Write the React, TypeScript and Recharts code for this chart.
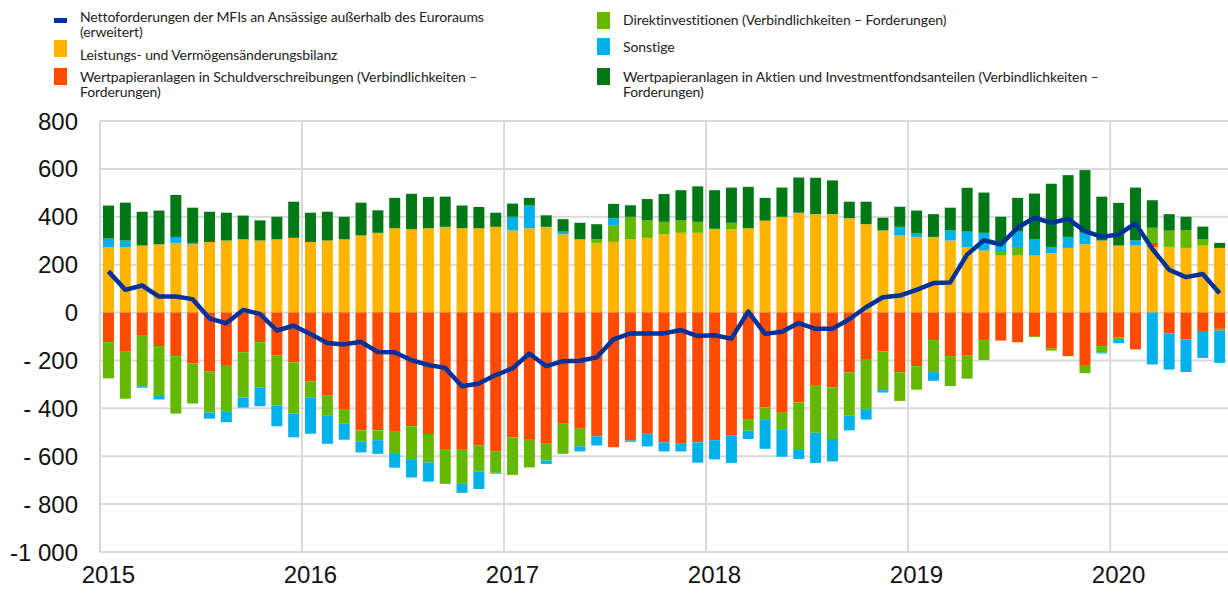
import React from 'react';
import { ComposedChart, Bar, Line, XAxis, YAxis, CartesianGrid, ReferenceLine } from 'recharts';

// monthly, Jan 2015 - Jul 2020
const years = ['2015', '2016', '2017', '2018', '2019', '2020'];
const monthsPerYear = [12, 12, 12, 12, 12, 7];

const leistung = [
  274, 274, 280, 285, 291, 285, 295, 301, 306, 301, 306, 312,
  295, 301, 306, 322, 333, 352, 348, 352, 358, 352, 352, 358,
  343, 352, 358, 327, 306, 291, 295, 306, 312, 327, 333, 333,
  350, 347, 352, 384, 400, 417, 411, 411, 394, 369, 343, 322,
  316, 316, 301, 274, 259, 238, 238, 238, 247, 270, 285, 301,
  280, 280, 274, 274, 270, 280, 270,
];
const schuld = [
  -124, -161, -94, -140, -182, -212, -245, -219, -166, -124, -178, -208,
  -287, -345, -403, -492, -492, -498, -475, -507, -570, -570, -555, -580,
  -521, -528, -548, -464, -485, -517, -563, -534, -506, -542, -548, -542,
  -533, -513, -445, -397, -418, -376, -303, -313, -250, -194, -162, -250,
  -224, -115, -182, -178, -115, -117, -124, -98, -151, -182, -219, -140,
  -103, -154, 17, -87, -112, -77, -68,
];
const direkt = [
  -151, -199, -214, -205, -240, -168, -173, -193, -189, -189, -210, -214,
  -67, -84, -61, -46, -41, -88, -137, -119, -143, -145, -109, -89,
  -157, -119, -70, -126, -74, 15, 70, 94, 73, 52, 52, 46,
  0, 28, -48, -48, -69, -194, -199, -215, -179, -208, -162, -119,
  -98, -134, -125, -98, -83, 15, 36, -4, -8, 0, -34, -27,
  -8, 0, 63, 68, 73, 27, -8,
];
const sonstige = [
  35, 27, -6, -18, 25, 6, -25, -46, -42, -78, -87, -99,
  -152, -119, -67, -46, -57, -62, -77, -80, -3, -38, -73, -4,
  57, 95, -14, 11, -21, -38, 29, -6, -53, -38, -32, -85,
  -80, -115, -35, -124, -115, -42, -126, -94, -63, -45, -10, 36,
  14, -36, 42, 64, 74, 38, 64, 69, 27, 46, 48, -4,
  -17, 21, -217, -151, -136, -113, -134,
];
const aktien = [
  138, 158, 141, 141, 175, 147, 126, 116, 99, 84, 94, 151,
  122, 120, 94, 137, 94, 127, 148, 131, 126, 95, 89, 59,
  55, 32, 48, 52, 69, 63, 60, 48, 89, 116, 126, 148,
  161, 147, 173, 95, 122, 147, 152, 141, 69, 94, 53, 84,
  96, 95, 95, 183, 168, 109, 141, 190, 264, 258, 262, 183,
  178, 221, 115, 69, 57, 52, 21,
];
const netto = [
  172, 95, 113, 67, 67, 56, -24, -45, 11, -6, -75, -55,
  -90, -127, -133, -122, -165, -166, -199, -219, -231, -308, -296, -261,
  -233, -171, -224, -203, -201, -187, -112, -87, -87, -87, -73, -98,
  -95, -109, 4, -89, -80, -44, -68, -68, -28, 22, 64, 71,
  95, 123, 126, 242, 302, 284, 354, 396, 375, 391, 340, 316,
  326, 372, 266, 179, 148, 161, 81,
];

const yTicks = [800, 600, 400, 200, 0, -200, -400, -600, -800, -1000];

const months: string[] = [];
years.forEach((y, k) => {
  for (let m = 1; m <= monthsPerYear[k]; m++) months.push(y + '-' + String(m).padStart(2, '0'));
});
const yearStarts = years.slice(1).map((y) => y + '-01');

const data = months.map((month, i) => ({
  month,
  leistung: leistung[i],
  schuld: schuld[i],
  direkt: direkt[i],
  sonstige: sonstige[i],
  aktien: aktien[i],
  netto: netto[i],
}));

const C = {
  blue: '#003299',
  yellow: '#FFB400',
  red: '#FF4B00',
  green: '#65B800',
  lightblue: '#00B1EA',
  dkgreen: '#007816',
  grid: '#d9d9d9',
};

const fmtY = (v: number) => {
  if (v === 0) return '0';
  if (v <= -1000) return '-1 000';
  if (v < 0) return '- ' + Math.abs(v);
  return String(v);
};

const font = 'Lato, "Open Sans", sans-serif';
const axisFont = { fontSize: 24, fill: '#111', fontFamily: '"Liberation Sans", Arial, sans-serif' };

type Item = { x: number; mTop: number; mH: number; tTop: number; color: string; lines: string[] };

const legend: Item[] = [
  { x: 54, mTop: 18, mH: 5, tTop: 9, color: C.blue, lines: ['Nettoforderungen der MFIs an Ansässige außerhalb des Euroraums', '(erweitert)'] },
  { x: 54, mTop: 40, mH: 17, tTop: 47, color: C.yellow, lines: ['Leistungs- und Vermögensänderungsbilanz'] },
  { x: 54, mTop: 68, mH: 17, tTop: 69, color: C.red, lines: ['Wertpapieranlagen in Schuldverschreibungen (Verbindlichkeiten –', 'Forderungen)'] },
  { x: 597, mTop: 12, mH: 17, tTop: 12, color: C.green, lines: ['Direktinvestitionen (Verbindlichkeiten – Forderungen)'] },
  { x: 597, mTop: 38, mH: 17, tTop: 39, color: C.lightblue, lines: ['Sonstige'] },
  { x: 597, mTop: 68, mH: 17, tTop: 69, color: C.dkgreen, lines: ['Wertpapieranlagen in Aktien und Investmentfondsanteilen (Verbindlichkeiten –', 'Forderungen)'] },
];

export default function App() {
  return (
    <div style={{ position: 'absolute', left: 0, top: 0, width: 1228, height: 594, background: '#fff', fontFamily: font, overflow: 'hidden' }}>
      {legend.map((it) => (
        <React.Fragment key={it.lines[0]}>
          <div style={{ position: 'absolute', left: it.x, top: it.mTop, width: 13, height: it.mH, background: it.color }} />
          <div
            style={{
              position: 'absolute',
              left: it.x + 26,
              top: it.tTop,
              whiteSpace: 'nowrap',
              fontSize: 14,
              letterSpacing: -0.1,
              lineHeight: '15px',
              color: '#222',
            }}
          >
            {it.lines.map((l) => (
              <div key={l}>{l}</div>
            ))}
          </div>
        </React.Fragment>
      ))}

      <div style={{ position: 'absolute', left: 0, top: 0 }}>
        <ComposedChart
          width={1228}
          height={594}
          data={data}
          stackOffset="sign"
          margin={{ top: 121, right: 0, bottom: 0, left: 0 }}
        >
          <CartesianGrid vertical={false} stroke={C.grid} strokeWidth={2} />
          <XAxis
            dataKey="month"
            interval={11}
            tickFormatter={(v: string) => v.slice(0, 4)}
            tickLine={false}
            axisLine={false}
            height={42}
            tick={axisFont}
            tickMargin={8}
          />
          <YAxis
            domain={[-1000, 800]}
            ticks={yTicks}
            interval={0}
            tickFormatter={fmtY}
            width={100}
            tickLine={false}
            axisLine={{ stroke: C.grid, strokeWidth: 2 }}
            tick={axisFont}
            tickMargin={16}
          />
          {yearStarts.map((m) => (
            <ReferenceLine key={m} x={m} position="start" stroke={C.grid} strokeWidth={2} />
          ))}
          <Bar dataKey="leistung" stackId="a" fill={C.yellow} barSize={11} isAnimationActive={false} />
          <Bar dataKey="schuld" stackId="a" fill={C.red} barSize={11} isAnimationActive={false} />
          <Bar dataKey="direkt" stackId="a" fill={C.green} barSize={11} isAnimationActive={false} />
          <Bar dataKey="sonstige" stackId="a" fill={C.lightblue} barSize={11} isAnimationActive={false} />
          <Bar dataKey="aktien" stackId="a" fill={C.dkgreen} barSize={11} isAnimationActive={false} />
          <Line
            dataKey="netto"
            type="linear"
            stroke={C.blue}
            strokeWidth={4.5}
            dot={false}
            strokeLinejoin="round"
            isAnimationActive={false}
          />
        </ComposedChart>
      </div>
    </div>
  );
}
